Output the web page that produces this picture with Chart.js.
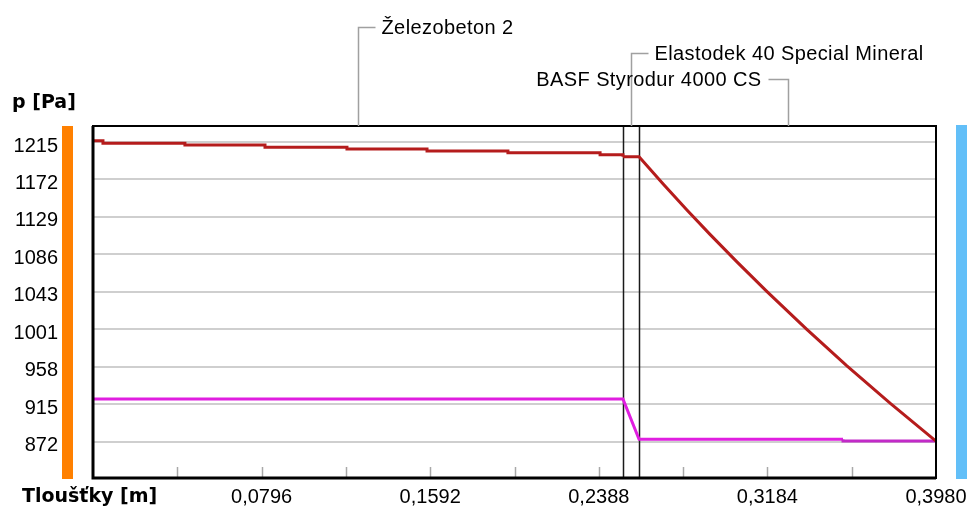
<!DOCTYPE html>
<html>
<head>
<meta charset="utf-8">
<script src="https://cdn.jsdelivr.net/npm/chart.js@4/dist/chart.umd.min.js"></script>
<style>
  body { margin: 0; background: #fff; }
  #wrap { width: 972px; height: 510px; }
</style>
</head>
<body>
<div id="wrap"><canvas id="chart"></canvas></div>
<script>
// Layer boundaries (m) and names
const layerX = [0, 0.2502, 0.2578, 0.398];
const layerNames = ['Železobeton 2', 'Elastodek 40 Special Mineral', 'BASF Styrodur 4000 CS'];

// Saturated vapour pressure, first layer (stepped)
const satFlatX = [0, 0.0047, 0.0434, 0.0812, 0.1199, 0.1577, 0.1959, 0.2394, 0.2502];
const satFlatP = [1216.5, 1213.5, 1211.6, 1208.9, 1207.0, 1204.7, 1202.8, 1200.5, 1198.2];

// Saturated vapour pressure, insulation
const satSlopeX = [0.2502, 0.2578, 0.2693, 0.2803, 0.2913, 0.3039, 0.3181, 0.3370, 0.3558, 0.3763, 0.398];
const satSlopeP = [1198.2, 1198.2, 1166.6, 1137.4, 1109.3, 1078.1, 1044.0, 1000.5, 959.1, 916.1, 872.7];

// Partial vapour pressure
const vapX = [0, 0.2502, 0.2578, 0.3541, 0.3541, 0.398];
const vapP = [921, 921, 874.7, 874.7, 872.8, 872.8];

// Axis ticks
const xTicks = [0, 0.0398, 0.0796, 0.1194, 0.1592, 0.199, 0.2388, 0.2786, 0.3184, 0.3582, 0.398];
const xTickLabels = ['', '', '0,0796', '', '0,1592', '', '0,2388', '', '0,3184', '', '0,3980'];
const yTicks = [872, 914.875, 957.75, 1000.625, 1043.5, 1086.375, 1129.25, 1172.125, 1215];
const yTickLabels = ['872', '915', '958', '1001', '1043', '1086', '1129', '1172', '1215'];

const FONT = 'Liberation Sans, Arial, sans-serif';

function pts(xs, ys) {
  return xs.map((x, i) => ({ x: x, y: ys[i] }));
}

// Bits drawn under the curves: inner x ticks, layer boundaries
const underPlugin = {
  id: 'under',
  beforeDatasetsDraw(chart) {
    const { ctx, chartArea: a, scales: { x } } = chart;
    ctx.save();
    ctx.strokeStyle = '#a8a8a8';
    ctx.lineWidth = 1.5;
    xTicks.slice(1, -1).forEach(v => {
      const px = Math.round(x.getPixelForValue(v)) + 0.5;
      ctx.beginPath();
      ctx.moveTo(px, a.bottom);
      ctx.lineTo(px, a.bottom - 11);
      ctx.stroke();
    });
    ctx.strokeStyle = '#1a1a1a';
    ctx.lineWidth = 1.5;
    layerX.slice(1, -1).forEach(v => {
      const px = Math.round(x.getPixelForValue(v)) + 0.5;
      ctx.beginPath();
      ctx.moveTo(px, a.top);
      ctx.lineTo(px, a.bottom);
      ctx.stroke();
    });
    ctx.restore();
  }
};

// Frame, side bars, titles and layer labels
const overPlugin = {
  id: 'over',
  afterDraw(chart) {
    const { ctx, chartArea: a, scales: { x } } = chart;
    ctx.save();

    // interior / exterior bars
    ctx.fillStyle = '#ff8000';
    ctx.fillRect(a.left - 31, a.top, 11, a.bottom - a.top + 1);
    ctx.fillStyle = '#62bff8';
    ctx.fillRect(a.right + 20, a.top - 1, 11, a.bottom - a.top + 2);

    // frame
    ctx.strokeStyle = '#000';
    ctx.lineWidth = 2;
    ctx.strokeRect(a.left, a.top, a.right - a.left, a.bottom - a.top);
    ctx.lineWidth = 3;
    ctx.beginPath();
    ctx.moveTo(a.left, a.top);
    ctx.lineTo(a.left, a.bottom);
    ctx.lineTo(a.right, a.bottom);
    ctx.stroke();

    // axis titles
    ctx.fillStyle = '#000';
    ctx.font = 'bold 19px DejaVu Sans, sans-serif';
    ctx.textBaseline = 'middle';
    ctx.textAlign = 'left';
    ctx.fillText('p [Pa]', 12, 103);
    ctx.fillText('Tloušťky [m]', 22, 497);

    // layer labels with leader lines
    const mid = i => Math.round(x.getPixelForValue((layerX[i] + layerX[i + 1]) / 2)) + 0.5;
    const labels = [
      { y: 27, side: 'right' },
      { y: 53, side: 'right' },
      { y: 79, side: 'left' }
    ];
    ctx.font = '20px ' + FONT;
    ctx.letterSpacing = '0.4px';
    ctx.strokeStyle = '#a0a0a0';
    ctx.lineWidth = 1.5;
    labels.forEach((l, i) => {
      const px = mid(i);
      const ly = l.y + 0.5;
      ctx.beginPath();
      ctx.moveTo(px, a.top);
      ctx.lineTo(px, ly);
      if (l.side === 'right') {
        ctx.lineTo(px + 17, ly);
      } else {
        ctx.lineTo(px - 20, ly);
      }
      ctx.stroke();
      if (l.side === 'right') {
        ctx.textAlign = 'left';
        ctx.fillText(layerNames[i], px + 23, l.y + 1);
      } else {
        ctx.textAlign = 'right';
        ctx.fillText(layerNames[i], px - 27, l.y + 1);
      }
    });

    ctx.restore();
  }
};

new Chart(document.getElementById('chart'), {
  type: 'line',
  data: {
    datasets: [
      {
        label: 'p sat 1',
        data: pts(satFlatX, satFlatP),
        borderColor: '#b51c1c',
        borderWidth: 3,
        stepped: true,
        pointRadius: 0
      },
      {
        label: 'p sat 2',
        data: pts(satSlopeX, satSlopeP),
        borderColor: '#b51c1c',
        borderWidth: 3,
        pointRadius: 0
      },
      {
        label: 'p',
        data: pts(vapX, vapP),
        borderColor: '#e01ee0',
        borderWidth: 3,
        pointRadius: 0,
        segment: {
          borderColor: c => c.p0.parsed.x >= 0.354 ? '#c22ac8' : undefined
        }
      }
    ]
  },
  options: {
    responsive: true,
    maintainAspectRatio: false,
    animation: false,
    layout: { padding: { top: 126, right: 36, left: 0, bottom: 0 } },
    plugins: {
      legend: { display: false },
      tooltip: { enabled: false }
    },
    scales: {
      x: {
        type: 'linear',
        min: 0,
        max: 0.398,
        afterBuildTicks: s => { s.ticks = xTicks.map(v => ({ value: v })); },
        afterFit: s => { s.height = 32; },
        grid: { display: true, drawOnChartArea: false, drawTicks: true, tickLength: 7, tickColor: 'rgba(0,0,0,0)' },
        border: { display: false },
        ticks: {
          autoSkip: false,
          maxRotation: 0,
          padding: 0,
          color: '#000',
          font: { family: FONT, size: 20 },
          callback: (v, i) => xTickLabels[i]
        }
      },
      y: {
        min: 830.5,
        max: 1233.3,
        afterBuildTicks: s => { s.ticks = yTicks.map(v => ({ value: v })); },
        afterFit: s => { s.width = 93; },
        grid: { color: '#cfcfcf', lineWidth: 2, drawTicks: true, tickLength: 35, tickColor: 'rgba(0,0,0,0)' },
        border: { display: false },
        ticks: {
          autoSkip: false,
          padding: 0,
          labelOffset: 4,
          color: '#000',
          font: { family: FONT, size: 20 },
          callback: (v, i) => yTickLabels[i]
        }
      }
    }
  },
  plugins: [underPlugin, overPlugin]
});
</script>
</body>
</html>
